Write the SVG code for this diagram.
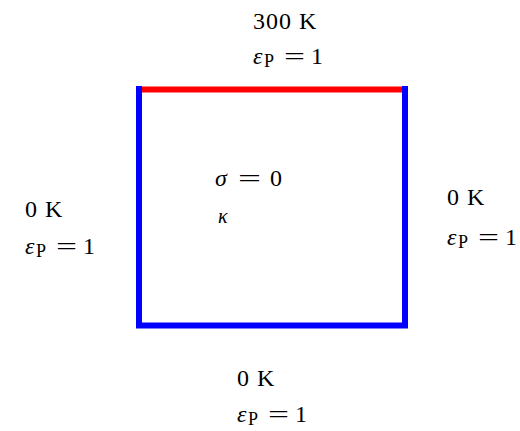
<svg xmlns="http://www.w3.org/2000/svg" width="520" height="431" viewBox="0 0 520 431">
<style>
text{font-family:"Liberation Serif","Times New Roman",serif;font-size:24px;fill:#000}
.e{font-style:italic}
.s{font-size:18px}
.k{letter-spacing:1px}
.w{fill:none;stroke-width:6}
</style>
<defs>
<g id="ep">
<text x="0" y="0" class="e">ε</text>
<text x="11" y="3" class="s">P</text>
<text x="31" y="0" textLength="21" lengthAdjust="spacingAndGlyphs">=</text>
<text x="58" y="0">1</text>
</g>
</defs>
<rect width="520" height="431" fill="#fff"/>
<g id="walls">
<line class="w" x1="142" y1="89.5" x2="402" y2="89.5" stroke="#ff0000"/>
<line class="w" x1="139" y1="86" x2="139" y2="328" stroke="#0000ff"/>
<line class="w" x1="405" y1="86" x2="405" y2="328" stroke="#0000ff"/>
<line class="w" x1="136" y1="325.5" x2="408" y2="325.5" stroke="#0000ff"/>
</g>
<g id="top">
<text x="253" y="29" class="k">300 K</text>
<use href="#ep" x="253" y="64"/>
</g>
<g id="left">
<text x="25" y="217" class="k">0 K</text>
<use href="#ep" x="25" y="254"/>
</g>
<g id="right">
<text x="447" y="205" class="k">0 K</text>
<use href="#ep" x="447" y="245"/>
</g>
<g id="bottom">
<text x="237" y="386" class="k">0 K</text>
<use href="#ep" x="237" y="422"/>
</g>
<g id="center">
<text x="215" y="186" class="e">σ</text>
<text x="238" y="186" textLength="23" lengthAdjust="spacingAndGlyphs">=</text>
<text x="270" y="186">0</text>
<text x="218" y="223" class="e" style="font-size:20px">κ</text>
</g>
</svg>
